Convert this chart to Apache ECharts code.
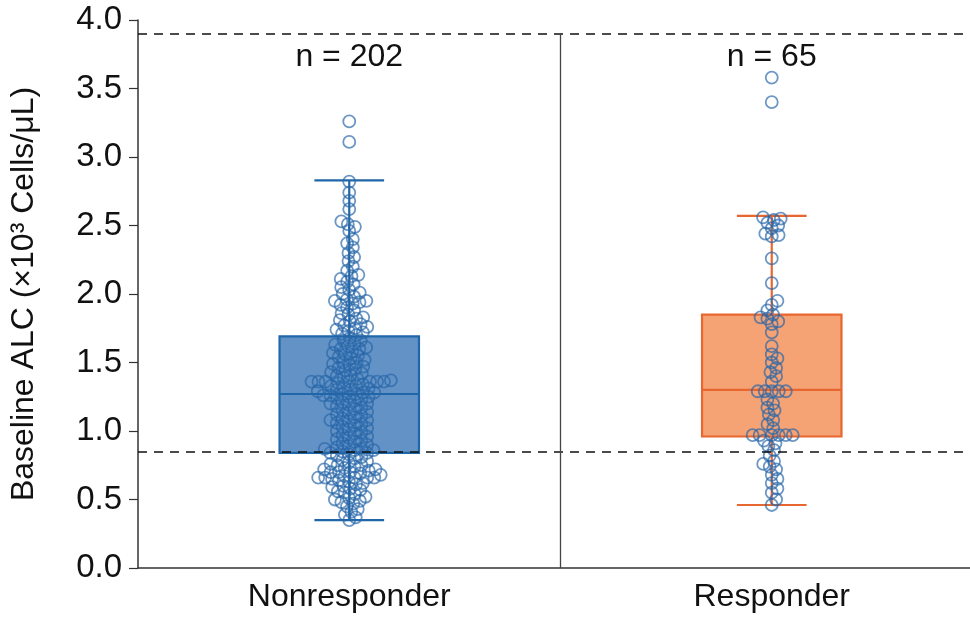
<!DOCTYPE html>
<html lang="en">
<head>
    <meta charset="UTF-8">
    <title>Baseline ALC by response</title>
    <script src="https://cdn.jsdelivr.net/npm/echarts@6/dist/echarts.min.js"></script>
    <style>
        html, body { margin: 0; padding: 0; background: #fff; }
        #chart { width: 970px; height: 618px; }
    </style>
</head>
<body>
<div id="chart"></div>
<script>
// ---- data ----
const categories = ['Nonresponder', 'Responder'];

const nonresponderValues = [
    3.26, 3.11, 2.82, 2.74, 2.68, 2.62, 2.53, 2.51, 2.49, 2.46, 2.40, 2.37, 2.34, 2.30,
    2.27, 2.24, 2.20, 2.17, 2.14, 2.13, 2.11, 2.09, 2.07, 2.05, 2.03, 2.01, 2.00, 1.98,
    1.96, 1.95, 1.95, 1.94, 1.93, 1.92, 1.90, 1.88, 1.86, 1.85, 1.83, 1.82, 1.81, 1.80,
    1.78, 1.77, 1.76, 1.75, 1.74, 1.73, 1.72, 1.71, 1.70,
    1.68, 1.66, 1.66, 1.64, 1.63, 1.62, 1.61, 1.60, 1.60, 1.58, 1.57, 1.56, 1.55, 1.54,
    1.53, 1.52, 1.50, 1.50, 1.49, 1.48, 1.47, 1.46, 1.45, 1.44, 1.43, 1.42, 1.41, 1.40,
    1.39, 1.38, 1.37, 1.36, 1.36, 1.36, 1.36, 1.36, 1.36, 1.36, 1.35, 1.34, 1.33, 1.33,
    1.32, 1.31, 1.30, 1.30, 1.29, 1.28, 1.28, 1.27, 1.27, 1.26, 1.26, 1.25, 1.25,
    1.24, 1.23, 1.22, 1.21, 1.20, 1.20, 1.19, 1.18, 1.17, 1.16, 1.15, 1.14, 1.13, 1.12,
    1.11, 1.10, 1.09, 1.08, 1.08, 1.07, 1.06, 1.05, 1.04, 1.03, 1.02, 1.01, 1.00, 0.99,
    0.98, 0.97, 0.96, 0.95, 0.94, 0.93, 0.92, 0.91, 0.90, 0.89, 0.88, 0.87, 0.87, 0.86,
    0.86, 0.85, 0.84, 0.84,
    0.83, 0.82, 0.81, 0.80, 0.79, 0.78, 0.77, 0.76, 0.75, 0.75, 0.74, 0.73, 0.72, 0.72,
    0.71, 0.70, 0.70, 0.70, 0.69, 0.68, 0.67, 0.66, 0.66, 0.66, 0.66, 0.66, 0.65, 0.64,
    0.63, 0.62, 0.61, 0.60, 0.59, 0.58, 0.57, 0.56, 0.55, 0.54, 0.52, 0.51, 0.50, 0.49,
    0.48, 0.47, 0.45, 0.43, 0.41, 0.39, 0.37, 0.35
];

const responderValues = [
    3.58, 3.40, 2.56, 2.55, 2.54, 2.52, 2.50, 2.48, 2.44, 2.43, 2.42, 2.26, 2.08,
    1.95, 1.92, 1.88, 1.85, 1.83, 1.82, 1.80, 1.78, 1.72, 1.62, 1.56, 1.53, 1.50,
    1.46, 1.43, 1.40, 1.36, 1.29, 1.29, 1.29, 1.29, 1.29, 1.23, 1.20, 1.17, 1.15,
    1.12, 1.08, 1.05, 1.02, 0.97, 0.97, 0.97, 0.97, 0.97, 0.97, 0.93, 0.91, 0.89,
    0.86, 0.82, 0.78, 0.76, 0.74, 0.72, 0.68, 0.65, 0.62, 0.58, 0.55, 0.50, 0.46
];

// [whisker low, Q1, median, Q3, whisker high]
const nonresponderBox = [0.35, 0.84, 1.27, 1.69, 2.83];
const responderBox = [0.46, 0.96, 1.30, 1.85, 2.57];

const refLines = [3.9, 0.85];   // dashed reference levels

// ---- styling ----
const GRID = { left: 138, top: 20, width: 845, height: 548, outerBoundsMode: 'none' };
const Y_MIN = 0, Y_MAX = 4;
const BOX_RATIO = 0.33;
const SWARM_GAP = 7;   // px between point centres in the swarm
const FONT = '"Liberation Sans", Arial, sans-serif';
const TEXT = '#111';
const boxFill = ['#6393c6', '#f5a274'];
const boxStroke = ['#1f67a8', '#e8662f'];
const pointColor = 'rgba(38,102,168,0.68)';

// simple beeswarm: place each point as close to the centre as it can go
function swarm(values, catIndex) {
    const yPx = GRID.height / (Y_MAX - Y_MIN);
    const xPxPerUnit = GRID.width / categories.length;
    const d = SWARM_GAP;
    const placed = [];
    values.slice().sort((a, b) => a - b).forEach(v => {
        const y = v * yPx;
        const near = placed.filter(p => Math.abs(p.y - y) < d);
        const cands = [0];
        near.forEach(p => {
            const dx = Math.sqrt(d * d - (p.y - y) * (p.y - y));
            cands.push(p.x + dx, p.x - dx);
        });
        cands.sort((a, b) => Math.abs(a) - Math.abs(b));
        const x = cands.find(c => near.every(p => (p.x - c) * (p.x - c) + (p.y - y) * (p.y - y) >= d * d - 1e-6));
        placed.push({ x: x, y: y, v: v });
    });
    return placed.map(p => [catIndex + p.x / xPxPerUnit, p.v]);
}

const chart = echarts.init(document.getElementById('chart'));

const option = {
    animation: false,
    grid: GRID,
    xAxis: [{
        type: 'category',
        data: categories,
        boundaryGap: true,
        axisLine: { lineStyle: { color: '#333', width: 1.5 } },
        axisTick: { alignWithLabel: true, length: 10, lineStyle: { color: '#333', width: 1.2 } },
        axisLabel: { fontSize: 32, color: TEXT, fontFamily: FONT, margin: 13 },
        splitLine: { show: false }
    }, {
        type: 'value',
        min: -0.5,
        max: 1.5,
        show: false
    }],
    yAxis: {
        type: 'value',
        min: Y_MIN,
        max: Y_MAX,
        interval: 0.5,
        name: 'Baseline ALC (×10³ Cells/μL)',
        nameLocation: 'middle',
        nameRotate: 90,
        nameGap: 98,
        nameTextStyle: { fontSize: 32, color: TEXT, fontFamily: FONT },
        axisLine: { show: true, onZero: false, lineStyle: { color: '#333', width: 1.5 } },
        axisTick: { show: true, length: 9, lineStyle: { color: '#333', width: 1.2 } },
        axisLabel: { fontSize: 33, color: TEXT, fontFamily: FONT, margin: 16,
            formatter: v => v.toFixed(1) },
        splitLine: { show: false }
    },
    series: [{
        name: 'refs',
        type: 'scatter',
        xAxisIndex: 1,
        data: [],
        z: 1,
        markLine: {
            silent: true,
            symbol: 'none',
            label: { show: false },
            lineStyle: { color: '#111', width: 1.5, type: [9, 7] },
            data: refLines.map(v => ({ yAxis: v })).concat([
                [{ coord: [0.5, 0], lineStyle: { type: 'solid', color: '#444', width: 1.3 } },
                 { coord: [0.5, refLines[0]] }]
            ])
        }
    }, {
        name: 'box',
        type: 'custom',
        xAxisIndex: 0,
        z: 2,
        data: [nonresponderBox, responderBox].map((s, i) => [i].concat(s)),
        renderItem: function (params, api) {
            const i = api.value(0);
            const x = api.coord([i, 0])[0];
            const yOf = k => api.coord([i, api.value(k)])[1];
            const yMin = yOf(1), yQ1 = yOf(2), yMed = yOf(3), yQ3 = yOf(4), yMax = yOf(5);
            const hw = api.size([1, 0])[0] * BOX_RATIO / 2;
            const cw = hw / 2;
            const st = { stroke: boxStroke[i], lineWidth: 2.2 };
            return {
                type: 'group',
                children: [
                    { type: 'line', shape: { x1: x, y1: yQ1, x2: x, y2: yMin }, style: st },
                    { type: 'line', shape: { x1: x, y1: yQ3, x2: x, y2: yMax }, style: st },
                    { type: 'line', shape: { x1: x - cw, y1: yMin, x2: x + cw, y2: yMin }, style: st },
                    { type: 'line', shape: { x1: x - cw, y1: yMax, x2: x + cw, y2: yMax }, style: st },
                    { type: 'rect', shape: { x: x - hw, y: yQ3, width: 2 * hw, height: yQ1 - yQ3 },
                      style: { fill: boxFill[i], stroke: boxStroke[i], lineWidth: 2.2 } },
                    { type: 'line', shape: { x1: x - hw, y1: yMed, x2: x + hw, y2: yMed }, style: st }
                ]
            };
        }
    }].concat([nonresponderValues, responderValues].map((vals, i) => ({
        name: categories[i],
        type: 'scatter',
        xAxisIndex: 1,
        z: 3,
        symbol: 'circle',
        symbolSize: 12,
        itemStyle: { color: 'rgba(0,0,0,0)', borderColor: pointColor, borderWidth: 1.8, opacity: 1 },
        data: swarm(vals, i)
    }))).concat([{
        name: 'counts',
        type: 'scatter',
        xAxisIndex: 0,
        z: 4,
        symbolSize: 0,
        itemStyle: { opacity: 1 },
        data: [[0, 3.73], [1, 3.73]],
        label: {
            show: true,
            position: 'inside',
            fontSize: 32,
            color: TEXT,
            fontFamily: FONT,
            formatter: p => 'n = ' + [nonresponderValues, responderValues][p.dataIndex].length
        }
    }])
};

chart.setOption(option);
</script>
</body>
</html>
